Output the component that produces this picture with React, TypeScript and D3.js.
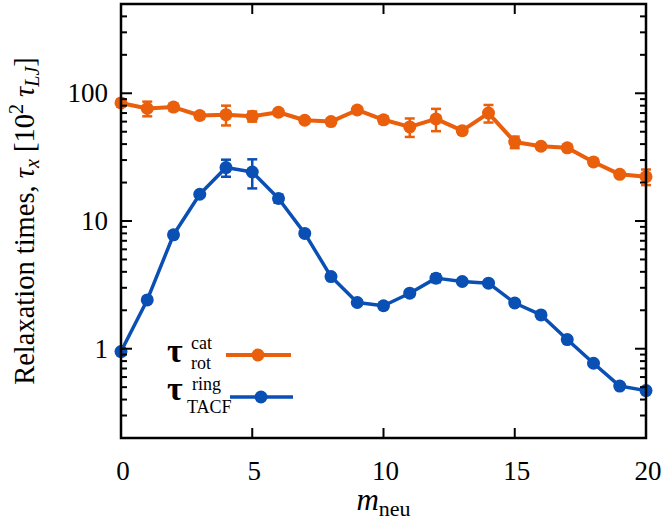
import React from "react";
import * as d3 from "d3";

const mNeu = [0, 1, 2, 3, 4, 5, 6, 7, 8, 9, 10, 11, 12, 13, 14, 15, 16, 17, 18, 19, 20];
const tauRotCat = [84, 76, 78, 67, 68, 66, 71, 61.5, 60, 74, 62, 54.5, 63, 51, 70, 41.5, 38.5, 37.4, 29, 23.2, 22.2];
const tauRotCatErr = [5, 10, 5, 4, 12, 6, 4, 3, 3, 4, 4, 9, 12.5, 3, 11, 4.3, 2, 2, 1.5, 1, 3.1];
const tauTacfRing = [0.95, 2.41, 7.8, 16.2, 26.2, 24.2, 15.0, 8.0, 3.67, 2.3, 2.17, 2.72, 3.57, 3.36, 3.26, 2.28, 1.84, 1.18, 0.77, 0.51, 0.47];
const tauTacfRingErr = [0.02, 0.1, 0.3, 0.5, 4, 6.2, 1.1, 0.3, 0.15, 0.1, 0.1, 0.15, 0.25, 0.1, 0.1, 0.1, 0.05, 0.05, 0.03, 0.02, 0.02];
const xTicks = [0, 5, 10, 15, 20];
const yTicks = [1, 10, 100];
const yMinorTicks = [0.2, 0.3, 0.4, 0.5, 0.6, 0.7, 0.8, 0.9, 2, 3, 4, 5, 6, 7, 8, 9, 20, 30, 40, 50, 60, 70, 80, 90, 200, 300, 400, 500];

const ORANGE = "#ea5f0c";
const BLUE = "#0a4fb4";
const TS = { fontFamily: '"Liberation Serif"' };

export default function App() {
  const W = 666, H = 525;
  const L = 121, R = 646, T = 4, B = 438;
  const x = d3.scaleLinear().domain([0, 20]).range([L, R]);
  const y = d3.scaleLog().domain([0.2, 500]).range([B, T]);
  const line = d3.line<number>().x((_, i) => x(mNeu[i])).y((d) => y(d));

  const series = [
    { vals: tauRotCat, errs: tauRotCatErr, color: ORANGE, width: 4 },
    { vals: tauTacfRing, errs: tauTacfRingErr, color: BLUE, width: 3.5 },
  ];

  return (
    <svg width={W} height={H} style={{ position: "absolute", left: 0, top: 0, background: "#fff" }}>
      <rect x={0} y={0} width={W} height={H} fill="#fff" />
      {series.map((s, si) => (
        <g key={si}>
          <path d={line(s.vals) || ""} fill="none" stroke={s.color} strokeWidth={s.width} strokeLinejoin="round" />
          {s.vals.map((v, i) => {
            const lo = y(Math.max(v - s.errs[i], 0.21));
            const hi = y(v + s.errs[i]);
            const cx = x(mNeu[i]);
            return (
              <g key={i}>
                <line x1={cx} x2={cx} y1={lo} y2={hi} stroke={s.color} strokeWidth={2.5} />
                <line x1={cx - 5} x2={cx + 5} y1={lo} y2={lo} stroke={s.color} strokeWidth={2.5} />
                <line x1={cx - 5} x2={cx + 5} y1={hi} y2={hi} stroke={s.color} strokeWidth={2.5} />
                <circle cx={cx} cy={y(v)} r={6.5} fill={s.color} />
              </g>
            );
          })}
        </g>
      ))}
      <rect x={L} y={T} width={R - L} height={B - T} fill="none" stroke="#000" strokeWidth={2.5} />
      {xTicks.map((t) => (
        <g key={"x" + t}>
          <line x1={x(t)} x2={x(t)} y1={B} y2={B - 10} stroke="#000" strokeWidth={2} />
          <line x1={x(t)} x2={x(t)} y1={T} y2={T + 10} stroke="#000" strokeWidth={2} />
          <text x={x(t) + 2} y={480} fontSize={27} textAnchor="middle" style={TS}>{t}</text>
        </g>
      ))}
      {yTicks.map((t) => (
        <g key={"y" + t}>
          <line x1={L} x2={L + 11} y1={y(t)} y2={y(t)} stroke="#000" strokeWidth={2} />
          <line x1={R} x2={R - 11} y1={y(t)} y2={y(t)} stroke="#000" strokeWidth={2} />
          <text x={108} y={y(t) + 9} fontSize={27} textAnchor="end" style={TS}>{t}</text>
        </g>
      ))}
      {yMinorTicks.map((t) => (
        <g key={"ym" + t}>
          <line x1={L} x2={L + 6} y1={y(t)} y2={y(t)} stroke="#000" strokeWidth={2} />
          <line x1={R} x2={R - 6} y1={y(t)} y2={y(t)} stroke="#000" strokeWidth={2} />
        </g>
      ))}
      <text x={(L + R) / 2} y={510} fontSize={31} textAnchor="middle" style={TS}>
        <tspan fontStyle="italic">m</tspan>
        <tspan fontSize={22} dy={6}>neu</tspan>
      </text>
      <text transform={`translate(34, ${(T + B) / 2}) rotate(-90)`} fontSize={28.5} textAnchor="middle" style={TS}>
        <tspan>Relaxation times, </tspan>
        <tspan fontStyle="italic">τ</tspan>
        <tspan fontStyle="italic" fontSize={20} dy={5}>x</tspan>
        <tspan dy={-5}> [10</tspan>
        <tspan fontSize={20} dy={-11}>2</tspan>
        <tspan dy={11}> </tspan>
        <tspan fontStyle="italic">τ</tspan>
        <tspan fontStyle="italic" fontSize={20} dy={5}>LJ</tspan>
        <tspan dy={-5}>]</tspan>
      </text>
      <g>
        <text x={167} y={362} fontSize={34} fontWeight="bold" style={TS}>τ</text>
        <text x={191} y={349} fontSize={18} style={TS}>cat</text>
        <text x={191} y={369} fontSize={18} style={TS}>rot</text>
        <line x1={226} x2={291} y1={355} y2={355} stroke={ORANGE} strokeWidth={4} />
        <circle cx={258} cy={355} r={6.5} fill={ORANGE} />
        <text x={167} y={400} fontSize={34} fontWeight="bold" style={TS}>τ</text>
        <text x={192} y={390} fontSize={18} style={TS}>ring</text>
        <text x={187} y={413} fontSize={18} style={TS}>TACF</text>
        <line x1={230} x2={293} y1={397} y2={397} stroke={BLUE} strokeWidth={3.5} />
        <circle cx={261} cy={397} r={6.5} fill={BLUE} />
      </g>
    </svg>
  );
}
